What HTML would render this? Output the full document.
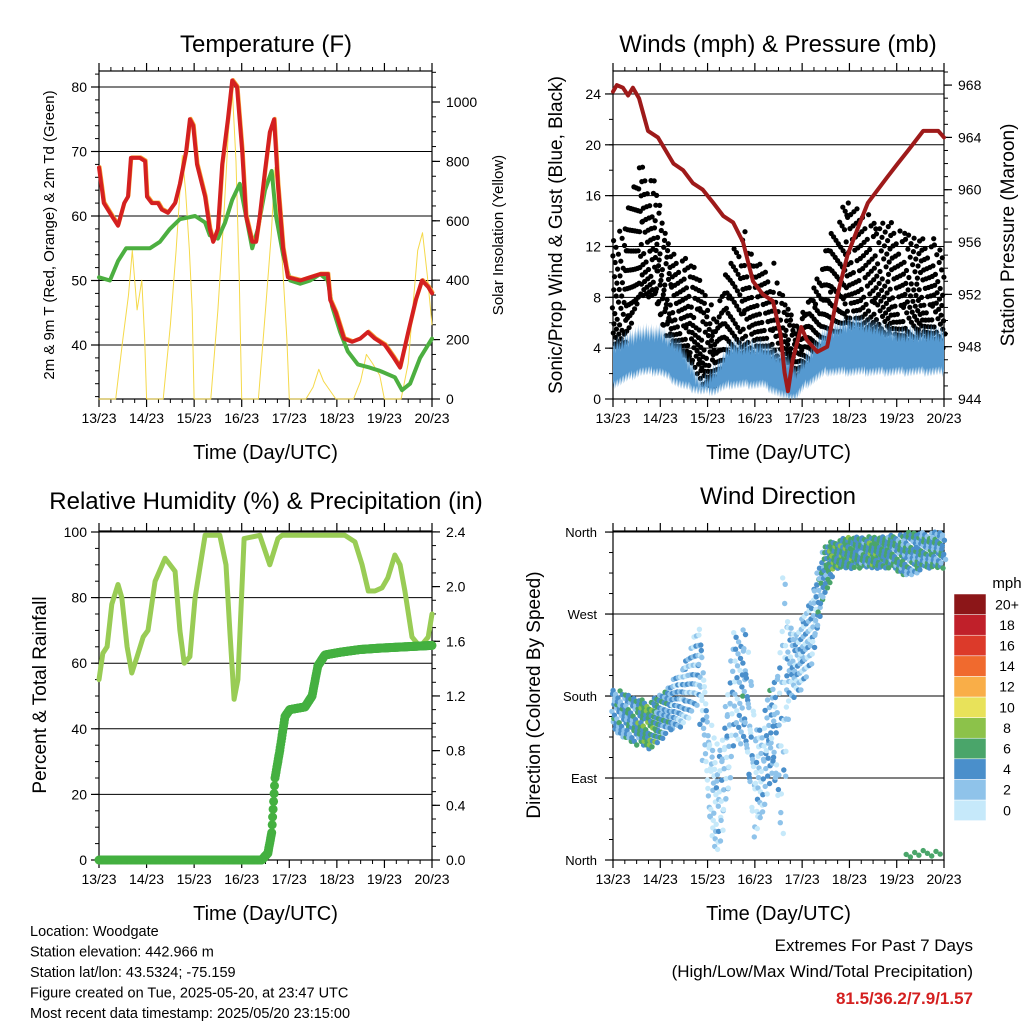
<!DOCTYPE html>
<html><head><meta charset="utf-8"><style>
body{margin:0;background:#fff;width:1024px;height:1024px;overflow:hidden}
svg{font-family:"Liberation Sans",Arial,sans-serif}
</style></head><body>
<svg id="c" width="1024" height="1024" viewBox="0 0 1024 1024" xmlns="http://www.w3.org/2000/svg"></svg>
<script>
// ---------- DATA (time in days since 13/23) ----------
const dayLabels=["13/23","14/23","15/23","16/23","17/23","18/23","19/23","20/23"];
// Temperature panel
const tempT=[0,.1,.27,.4,.53,.61,.67,.86,.97,1.01,1.11,1.24,1.32,1.45,1.6,1.7,1.83,1.91,1.98,2.06,2.23,2.33,2.4,2.5,2.59,2.71,2.8,2.9,3.01,3.09,3.22,3.3,3.38,3.49,3.59,3.68,3.76,3.87,3.97,4.23,4.44,4.65,4.81,4.86,4.98,5.15,5.32,5.49,5.65,5.8,6.01,6.2,6.33,6.5,6.66,6.79,6.92,7];
const tempV=[67.5,62,60,58.5,62,63,69,69,68.5,63,62,62,61,60.5,62,65,70,75,74,68,63,58,56,58,68,75,81,80,70,60,56,56,60,67,73,75,65,55,50.5,50,50.5,51,51,47,45,41,40.5,41,42,41,40,38,36.5,42,47,50,49,48];
const dewT=[0,.23,.4,.57,.86,1.07,1.28,1.49,1.7,2.02,2.23,2.33,2.5,2.65,2.8,2.96,3.09,3.22,3.34,3.49,3.63,3.72,3.87,4.02,4.23,4.44,4.65,4.81,4.9,5.07,5.23,5.44,5.69,5.9,6.22,6.37,6.54,6.75,7];
const dewV=[50.5,50,53,55,55,55,56,58,59.5,60,59,57,56.5,59,62.5,65,60,55,58,64,67,60,54,50,49.5,50,51,50,46,42,39,37,36.5,36,35,33,34,38,41];
const solT=[0,.35,.5,.62,.7,.8,.9,.96,1.0,1.35,1.5,1.62,1.75,1.82,1.9,1.96,2.0,2.35,2.5,2.62,2.72,2.8,2.88,2.95,3.0,3.35,3.5,3.62,3.7,3.78,3.86,3.95,4.0,4.35,4.5,4.62,4.72,4.85,4.98,5.35,5.5,5.62,5.75,5.9,6.0,6.35,6.5,6.62,6.7,6.8,6.9,7.0];
const solV=[0,0,200,350,500,300,400,200,0,0,250,500,820,700,500,300,0,0,300,600,900,1050,800,400,0,0,300,550,780,600,450,200,0,0,40,100,60,30,0,0,60,150,120,80,0,0,120,350,500,560,420,250];
// Winds panel
const presT=[0,.08,.21,.32,.42,.55,.74,.95,1.28,1.48,1.69,1.9,2.12,2.33,2.54,2.75,2.96,3.17,3.38,3.54,3.63,3.7,3.8,3.98,4.1,4.32,4.53,4.75,4.96,5.17,5.39,5.6,5.81,6.02,6.24,6.56,6.88,7];
const presV=[967.5,968,967.8,967.2,967.8,967,964.5,964,962,961.5,960.5,960,959,958,957.5,956,953,952,951.5,949,946,944.6,947,949.5,948.5,947.6,948,952,955,957,959,960,961,962,963,964.5,964.5,964];
const gustT=[0,.25,.57,.89,1.21,1.63,1.95,2.16,2.38,2.7,3.01,3.33,3.65,3.86,3.98,4.19,4.4,4.61,4.93,5.25,5.56,5.88,6.2,6.51,6.83,7];
const gustLo=[4,4,8,8,4,3,1,1,2,3,3,2,2,1,2,2,3,4,6,5,5,5,4,5,4,4];
const gustHi=[13,14,19,17,12,11,9,6,10,13,11,10,8,6,6,9,10,13,16,15,14,14,13,13,12,12];
const windT=[0,.57,1.0,1.42,1.84,2.16,2.48,3.17,3.65,3.86,4.08,4.5,5.13,6.0,7];
const windLo=[1,2,2,1,.5,.5,1,1,0,0,1,2,2,2,2];
const windHi=[5,6,6,5,2,3,5,5,4,3,4,6,7,6,6];
// RH panel
const rhT=[0,.08,.17,.27,.4,.48,.59,.69,.8,.93,1.03,1.18,1.39,1.6,1.7,1.79,1.91,2.02,2.23,2.54,2.67,2.75,2.84,2.92,3.05,3.38,3.59,3.76,3.85,4.22,4.65,5.17,5.38,5.53,5.66,5.8,5.95,6.07,6.22,6.33,6.43,6.58,6.75,6.92,7];
const rhV=[55,63,65,78,84,80,65,57,62,68,70,85,92,88,70,60,62,80,99,99,90,70,49,55,98,99,90,98,99,99,99,99,97,90,82,82,83,86,93,90,82,68,65,68,75];
const prT=[0,3.42,3.55,3.63,3.7,3.8,3.91,4.01,4.33,4.48,4.6,4.75,5.07,5.49,5.91,7];
const prV=[0,0,.05,.2,.6,.8,1.05,1.1,1.12,1.2,1.42,1.5,1.52,1.54,1.55,1.57];
// Direction panel (degrees, 0=North bottom)
const dirT=[0,.36,.78,1.21,1.52,1.84,2.05,2.26,2.57,2.79,3.0,3.17,3.34,3.48,3.6,3.7,3.91,4.23,4.44,4.65,4.97,5.39,5.81,6.24,6.66,7];
const dirLo=[140,130,120,140,150,170,20,0,120,130,20,40,100,60,0,170,180,220,280,320,320,320,320,310,320,320];
const dirHi=[190,180,175,190,220,260,150,120,250,260,150,140,200,200,350,260,250,300,340,350,355,355,355,360,360,360];
const dirSpd=[3,4,6,3,2,2,1,1,2,3,1,2,3,2,1,2,2,2,4,6,5,5,5,4,4,4];
const cbLabels=["0","2","4","6","8","10","12","14","16","18","20+"];
const cbColors=["#c6e9fa","#8fc3ea","#4a8fcb","#4aa56a","#8cc24a","#e8e25a","#f9ae48","#f06a2e","#dc3a2a","#c0202a","#8c1618"];

// ---------- helpers ----------
const S=document.getElementById('c');const NS="http://www.w3.org/2000/svg";
function mk(tag,at,parent){const e=document.createElementNS(NS,tag);for(const k in at)e.setAttribute(k,at[k]);(parent||S).appendChild(e);return e;}
function txt(x,y,s,size,anchor,extra,name){const e=mk('text',Object.assign({x:x,y:y,'font-size':size,'text-anchor':anchor||'middle',fill:'#000'},extra||{}));e.textContent=s;

return e;}
function line(x1,y1,x2,y2,w,col,name){const e=mk('line',{x1:x1,y1:y1,x2:x2,y2:y2,stroke:col||'#000','stroke-width':w||1});

return e;}
function path(pts,col,w,name){const d=pts.map((p,i)=>(i?'L':'M')+p[0].toFixed(1)+','+p[1].toFixed(1)).join('');const e=mk('path',{d:d,fill:'none',stroke:col,'stroke-width':w,'stroke-linejoin':'round','stroke-linecap':'round'});

return e;}
function interp(T,V,t){for(let i=1;i<T.length;i++){if(t<=T[i]){const f=(t-T[i-1])/(T[i]-T[i-1]||1);return V[i-1]+f*(V[i]-V[i-1]);}}return V[V.length-1];}
const PHI=0.6180339887;
function frac(x){return x-Math.floor(x);}

function frame(x0,y0,x1,y1,name){
  const r=mk('rect',{x:x0,y:y0,width:x1-x0,height:y1-y0,fill:'none',stroke:'#000','stroke-width':1.2});
  
  
  const xs=d=>x0+d*(x1-x0)/7;
  dayLabels.forEach((l,i)=>{const x=xs(i);line(x,y1,x,y1+8,1.2);line(x,y0,x,y0-8,1.2);txt(x,y1+24,l,14,'middle',{},'x-tick-label');});
  for(let i=0;i<7;i++)for(let k=1;k<4;k++){const x=xs(i+k/4);line(x,y1,x,y1+4,1);line(x,y0,x,y0-4,1);}
  txt((x0+x1)/2,y1+60,"Time (Day/UTC)",20,'middle',{},'x-axis-title');
  return xs;
}
function yaxis(x0,x1,yf,ticks,fmt,minorStep,lo,hi,side,grid){
  ticks.forEach(v=>{const y=yf(v);if(grid)line(x0,y,x1,y,1,'#000','gridline');
    if(side==='L'){line(x0-8,y,x0,y,1.2);txt(x0-12,y+5,fmt(v),14,'end',{},'y-tick-label');}
    else{line(x1,y,x1+8,y,1.2);txt(x1+14,y+5,fmt(v),14,'start',{},'y2-tick-label');}});
  for(let v=lo;v<=hi+1e-9;v+=minorStep){const y=yf(v);if(side==='L')line(x0-4,y,x0,y,1);else line(x1,y,x1+4,y,1);}
}

// ================= Panel 1: Temperature =================
{const x0=99,x1=432,y0=71,y1=399;
 txt(266,52,"Temperature (F)",24,'middle',{},'temperature-title');
 const yT=v=>87+(80-v)*6.45, yS=w=>399-w*0.297;
 yaxis(x0,x1,yT,[40,50,60,70,80],v=>v,2,32,82,'L',true);
 yaxis(x0,x1,yS,[0,200,400,600,800,1000],v=>v,50,0,1100,'R',false);
 const xs=frame(x0,y0,x1,y1,'temperature');
 path(solT.map((t,i)=>[xs(t),yS(solV[i])]),'#f5d94a',1,'solar-line');
 path(dewT.map((t,i)=>[xs(t),yT(dewV[i])]),'#4caf40',4,'dewpoint-line');
 path(tempT.map((t,i)=>[xs(t)+1,yT(tempV[i])-1]),'#f7a030',3,'temp-9m-line');
 path(tempT.map((t,i)=>[xs(t),yT(tempV[i])]),'#d42020',4,'temp-2m-line');
 txt(0,0,"2m & 9m T (Red, Orange) & 2m Td (Green)",15,'middle',{transform:'translate(54,235) rotate(-90)'},'y-axis-title');
 txt(0,0,"Solar Insolation (Yellow)",15,'middle',{transform:'translate(503,235) rotate(-90)'},'y2-axis-title');
}
// ================= Panel 2: Winds =================
{const x0=613,x1=944,y0=71,y1=399;
 txt(778,52,"Winds (mph) & Pressure (mb)",24,'middle',{},'winds-title');
 const yW=v=>399-v*12.71, yP=m=>399-(m-944)*13.08;
 yaxis(x0,x1,yW,[0,4,8,12,16,20,24],v=>v,2,0,25,'L',true);
 yaxis(x0,x1,yP,[944,948,952,956,960,964,968],v=>v,1,944,969,'R',false);
 const xs=frame(x0,y0,x1,y1,'winds');
 const g=mk('g',{fill:'#000'});
 let k=0;
 for(let t=0;t<=7;t+=0.006){k++;const lo=interp(gustT,gustLo,t),hi=interp(gustT,gustHi,t);
   const f=frac(k*PHI), f2=frac(k*0.7548776662);
   const v=lo+(hi-lo)*Math.pow(f,1.4)*(f2>0.97?1.2:1);
   mk('circle',{cx:(xs(t)+(f2-0.5)*3).toFixed(1),cy:yW(Math.min(v,20.5)).toFixed(1),r:2.6},g);}
 const top=[],bot=[];let m=0;for(let t=0;t<=7.0001;t+=0.008){m++;const lo=interp(windT,windLo,t),hi=interp(windT,windHi,t);const w=frac(m*PHI)*1.6;const w2=frac(m*0.7548776662)*0.9;top.push([xs(t),yW(hi-w)]);bot.unshift([xs(t),yW(Math.max(0,lo-0.3+w2))]);}
 const a=mk('path',{d:'M'+top.concat(bot).map(p=>p[0].toFixed(1)+','+p[1].toFixed(1)).join('L')+'Z',fill:'#5599d0'});
 path(presT.map((t,i)=>[xs(t),yP(presV[i])]),'#9e1a1a',4,'pressure-line');
 txt(0,0,"Sonic/Prop Wind & Gust (Blue, Black)",19,'middle',{transform:'translate(562,235) rotate(-90)'},'y-axis-title');
 txt(0,0,"Station Pressure (Maroon)",19,'middle',{transform:'translate(1014,235) rotate(-90)'},'y2-axis-title');
}
// ================= Panel 3: RH & Precip =================
{const x0=99,x1=432,y0=531,y1=860;
 txt(266,509,"Relative Humidity (%) & Precipitation (in)",24,'middle',{},'humidity-title');
 const yR=v=>860-v*3.28, yPr=v=>860-v*136.7;
 yaxis(x0,x1,yR,[0,20,40,60,80,100],v=>v,5,0,100,'L',true);
 yaxis(x0,x1,yPr,[0,.4,.8,1.2,1.6,2.0,2.4],v=>v.toFixed(1),0.1,0,2.4,'R',false);
 const xs=frame(x0,y0,x1,y1,'humidity');
 path(rhT.map((t,i)=>[xs(t),yR(rhV[i])]),'#99cc55',5,'humidity-line');
 const g=mk('g',{fill:'#44b040'});
 for(let t=0;t<=7;t+=0.01){mk('circle',{cx:xs(t).toFixed(1),cy:yPr(interp(prT,prV,t)).toFixed(1),r:4.5},g);}
 txt(0,0,"Percent & Total Rainfall",19,'middle',{transform:'translate(46,695) rotate(-90)'},'y-axis-title');
}
// ================= Panel 4: Wind Direction =================
{const x0=613,x1=944,y0=531,y1=860;
 txt(778,504,"Wind Direction",24,'middle',{},'direction-title');
 const yD=d=>860-d*0.911;
 const names=["North","East","South","West","North"];
 [0,90,180,270,360].forEach((d,i)=>{const y=yD(d);line(x0,y,x1,y,1,'#000','gridline');line(x0-8,y,x0,y,1.2);txt(x0-16,y+5,names[i],13,'end',{},'y-tick-label');});
 for(let d=0;d<=360;d+=22.5)line(x0-4,yD(d),x0,yD(d),1);
 const xs=frame(x0,y0,x1,y1,'direction');
 const g=mk('g',{});
 let k=0;
 for(let t=0;t<=7;t+=0.006){k++;const lo=interp(dirT,dirLo,t),hi=interp(dirT,dirHi,t),sp=interp(dirT,dirSpd,t);
   const f=frac(k*PHI), f2=frac(k*0.7548776662), f3=frac(k*0.5698402910);
   const v=lo+(hi-lo)*f;
   const ci=Math.max(0,Math.min(4,Math.round(sp/2+(f3-0.5)*2.2)));
   mk('circle',{cx:(xs(t)+(f2-0.5)*4).toFixed(1),cy:yD(Math.min(360,v)).toFixed(1),r:2.7,fill:cbColors[ci]},g);}
 for(let t=6.2;t<=7;t+=0.09){mk('circle',{cx:xs(t).toFixed(1),cy:yD(3+frac(t*7)*8).toFixed(1),r:2.7,fill:cbColors[3]},g);}
 txt(0,0,"Direction (Colored By Speed)",19,'middle',{transform:'translate(540,695) rotate(-90)'},'y-axis-title');
 // colorbar
 txt(1007,588,"mph",15,'middle',{},'colorbar-unit');
 const cbTop=594,h=20.6;
 cbLabels.forEach((l,i)=>{const y=cbTop+(10-i)*h;const r=mk('rect',{x:954,y:y,width:32,height:h,fill:cbColors[i],stroke:'#fff','stroke-width':0.5});
   
   
   txt(1007,y+h/2+5,l,14,'middle',{},'colorbar-label');});
}
// ================= Footer =================
["Location: Woodgate","Station elevation: 442.966 m","Station lat/lon: 43.5324; -75.159","Figure created on Tue, 2025-05-20, at 23:47 UTC","Most recent data timestamp: 2025/05/20 23:15:00"].forEach((s,i)=>txt(30,936+i*20.5,s,14.5,'start',{},'station-info'));
txt(973,951,"Extremes For Past 7 Days",17,'end',{},'extremes-heading');
txt(973,977,"(High/Low/Max Wind/Total Precipitation)",17,'end',{},'extremes-subheading');
txt(973,1004,"81.5/36.2/7.9/1.57",17,'end',{fill:'#d42020','font-weight':'bold'},'extremes-values');
</script>
</body></html>
